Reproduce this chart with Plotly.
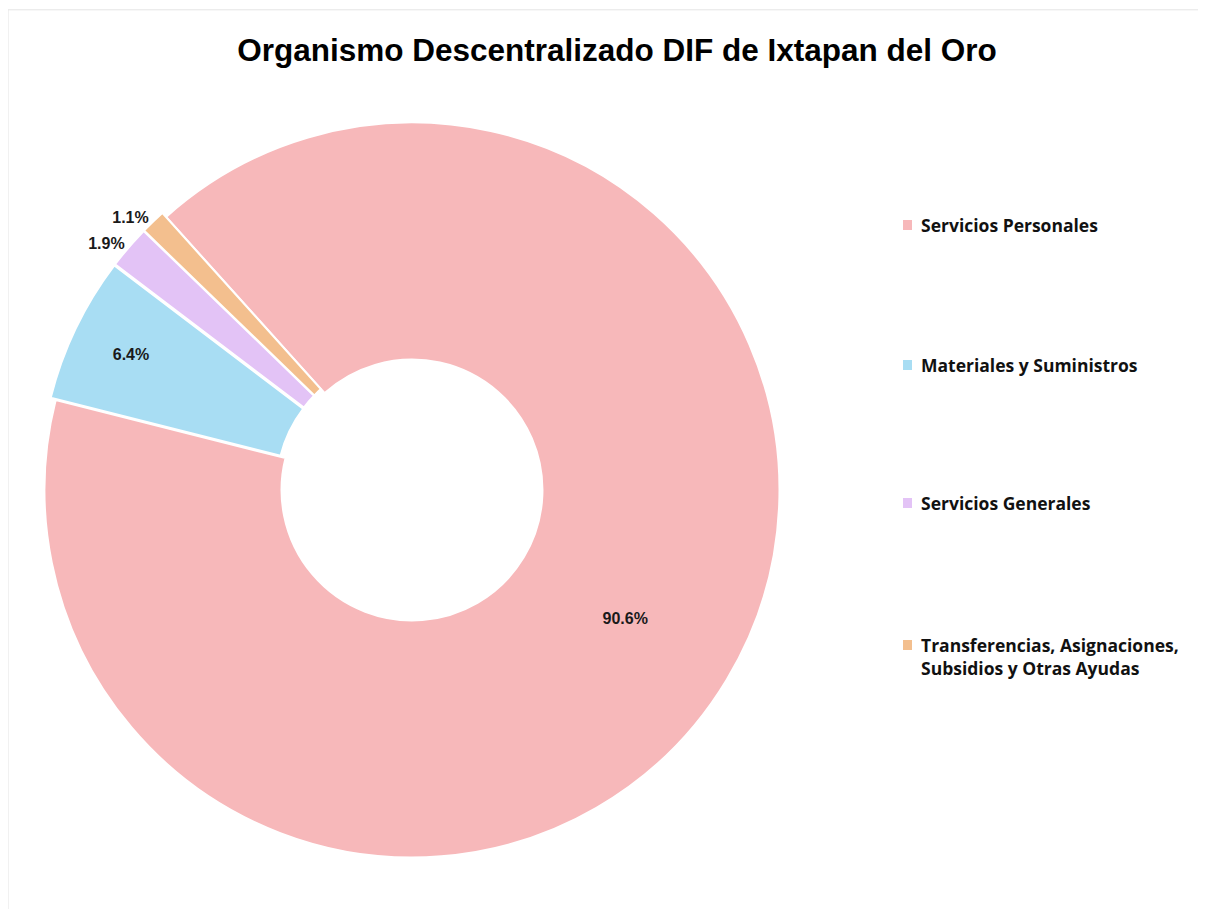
import plotly.graph_objects as go

categories = ["Servicios Personales", "Materiales y Suministros", "Servicios Generales",
              "Transferencias, Asignaciones, Subsidios y Otras Ayudas"]
legend_labels = ["Servicios Personales", "Materiales y Suministros", "Servicios Generales",
                 "Transferencias, Asignaciones,<br>Subsidios y Otras Ayudas"]
values = [90.6, 6.4, 1.9, 1.1]
colors = ["#F7B8BA", "#A8DDF3", "#E3C3F6", "#F3BF8E"]
text_positions = ["inside", "inside", "outside", "outside"]

W, H = 1206, 909
cx, cy, R = 404, 482, 373

fig = go.Figure()
fig.add_trace(go.Pie(
    labels=categories,
    values=values,
    sort=False,
    direction="clockwise",
    rotation=-42,
    hole=0.355,
    pull=[0, 0.015, 0.015, 0.015],
    marker=dict(colors=colors, line=dict(color="#FFFFFF", width=2)),
    texttemplate="<b>%{value:.1f}%</b>",
    textposition=text_positions,
    insidetextorientation="horizontal",
    textfont=dict(family="Liberation Sans Narrow, Arial Narrow, Liberation Sans, Arial",
                  size=16, color="#1a1a1a"),
    showlegend=False,
    hoverinfo="label+percent",
    domain=dict(x=[(cx - R) / W, (cx + R) / W], y=[(H - cy - R) / H, (H - cy + R) / H]),
))

# legend drawn as annotations with small colour squares
legend_y = [217, 357, 495, 637]
for lab, col, y in zip(legend_labels, colors, legend_y):
    fig.add_shape(type="rect", xref="paper", yref="paper",
                  x0=895 / W, x1=904 / W, y0=(H - y - 5) / H, y1=(H - y + 5) / H,
                  fillcolor=col, line=dict(width=0))
    fig.add_annotation(x=912 / W, y=(H - y + 13) / H, xref="paper", yref="paper",
                       text="<b>" + lab + "</b>", showarrow=False, xanchor="left", yanchor="top",
                       align="left", borderpad=0,
                       font=dict(family="Open Sans, Lato", size=17.5, color="#111111"))

fig.add_shape(type="rect", xref="paper", yref="paper", x0=0.0, x1=0.995, y0=0.0, y1=0.998,
              line=dict(color="#E4E4E4", width=1))

fig.update_layout(
    width=W, height=H,
    margin=dict(l=0, r=0, t=0, b=0),
    paper_bgcolor="white", plot_bgcolor="white",
    title=dict(text="<b>Organismo Descentralizado DIF de Ixtapan del Oro</b>",
               x=0.505, xanchor="center", y=1 - 42 / H, yanchor="middle",
               font=dict(family="Liberation Sans, Arial", size=31.5, color="#000000")),
)

fig.write_html("out.html")
